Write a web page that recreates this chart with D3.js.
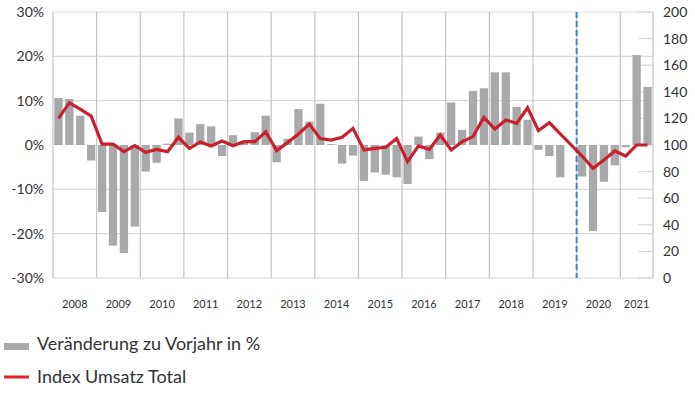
<!DOCTYPE html>
<html>
<head>
<meta charset="utf-8">
<script src="https://cdn.jsdelivr.net/npm/d3@7"></script>
<style>
    body { margin: 0; background: #ffffff; }
    text { font-family: Lato, sans-serif; fill: #333333; }
</style>
</head>
<body>
<div id="chart"></div>
<script>
const years = ['2008', '2009', '2010', '2011', '2012', '2013', '2014', '2015', '2016', '2017', '2018', '2019', '2020', '2021'];
const quartersPerYear = [4, 4, 4, 4, 4, 4, 4, 4, 4, 4, 4, 4, 4, 3];

// Veränderung zu Vorjahr in % (quarterly)
const changePct = [
    10.6, 10.4, 6.6, -3.5,
    -15.1, -22.7, -24.4, -18.4,
    -6.0, -4.0, 0.3, 6.0,
    2.8, 4.7, 4.2, -2.5,
    2.2, 0.5, 2.9, 6.6,
    -3.9, 1.4, 8.1, 5.3,
    9.3, 0.2, -4.2, -2.4,
    -8.1, -6.2, -6.7, -7.3,
    -8.8, 1.9, -3.2, 2.8,
    9.6, 3.4, 12.2, 12.8,
    16.4, 16.4, 8.6, 5.7,
    -1.1, -2.5, -7.3, 0,
    -7.1, -19.4, -8.3, -4.6,
    -0.5, 20.3, 13.1
];

// Index Umsatz Total (quarterly)
const indexTotal = [
    120, 131.7, 127, 121.7,
    100.7, 100.7, 95, 99.5,
    94.5, 96.7, 95, 105.8,
    97.3, 102.3, 99.3, 103,
    99.5, 102.5, 102.5, 110,
    95.8, 101.8, 108.3, 115.7,
    104.8, 103.7, 105.8, 112.5,
    96.3, 97.5, 98.3, 104.8,
    87.5, 99.3, 96.7, 107.5,
    96.3, 102.5, 106.3, 120.8,
    112, 118.8, 116.3, 128,
    110.8, 116.8, 108.3, 100,
    91.7, 82.5, 88.7, 95.5,
    91.7, 100, 100
];

const leftTicks = [-30, -20, -10, 0, 10, 20, 30];
const rightTicks = [0, 20, 40, 60, 80, 100, 120, 140, 160, 180, 200];
const markerYear = '2020';

// quarter keys like 2008Q1
const quarters = [];
years.forEach((y, i) => {
    for (let q = 1; q <= quartersPerYear[i]; q++) quarters.push(y + 'Q' + q);
});
const data = quarters.map((k, i) => ({key: k, change: changePct[i], index: indexTotal[i]}));

const margin = {top: 12, right: 42, bottom: 117, left: 53};
const width = 695, height = 395;
const visWidth = width - margin.left - margin.right;
const visHeight = height - margin.top - margin.bottom;

const svg = d3.select('#chart').append('svg')
    .attr('width', width)
    .attr('height', height);

const container = svg.append('g')
    .attr('transform', `translate(${margin.left}, ${margin.top})`);

const x = d3.scaleBand()
    .domain(quarters)
    .range([0, visWidth])
    .paddingInner(0.24)
    .paddingOuter(0.12);

const yLeft = d3.scaleLinear().domain([-30, 30]).range([visHeight, 0]);
const yRight = d3.scaleLinear().domain([0, 200]).range([visHeight, 0]);

// horizontal grid
container.selectAll('.hgrid')
    .data(leftTicks.filter(d => d !== 0))
    .join('line')
    .attr('class', 'hgrid')
    .attr('x1', 0)
    .attr('x2', visWidth)
    .attr('y1', d => yLeft(d))
    .attr('y2', d => yLeft(d))
    .attr('stroke', '#d9d9d9')
    .attr('stroke-width', 1.2);

// year boundaries
const yearStart = years.map(y => x(y + 'Q1') - x.step() * x.paddingOuter());
const yearEnd = yearStart.slice(1).concat([visWidth]);

container.selectAll('.vgrid')
    .data(yearStart.concat([visWidth]))
    .join('line')
    .attr('class', 'vgrid')
    .attr('x1', d => d)
    .attr('x2', d => d)
    .attr('y1', 0)
    .attr('y2', visHeight)
    .attr('stroke', '#c4c4c4')
    .attr('stroke-width', 1.2);

// right axis inward ticks
container.selectAll('.rtick')
    .data(rightTicks)
    .join('line')
    .attr('class', 'rtick')
    .attr('x1', visWidth - 15)
    .attr('x2', visWidth)
    .attr('y1', d => yRight(d))
    .attr('y2', d => yRight(d))
    .attr('stroke', '#d9d9d9')
    .attr('stroke-width', 1.2);

// bars
container.selectAll('.bar')
    .data(data)
    .join('rect')
    .attr('class', 'bar')
    .attr('x', d => x(d.key))
    .attr('width', x.bandwidth())
    .attr('y', d => yLeft(Math.max(0, d.change)))
    .attr('height', d => Math.abs(yLeft(d.change) - yLeft(0)))
    .attr('fill', '#a8a9ab');

// covid marker
const markerX = yearStart[years.indexOf(markerYear)];
container.append('line')
    .attr('x1', markerX)
    .attr('x2', markerX)
    .attr('y1', 0)
    .attr('y2', visHeight)
    .attr('stroke', '#3d85c6')
    .attr('stroke-width', 2)
    .attr('stroke-dasharray', '6,3');

// index line
const line = d3.line()
    .x(d => x(d.key) + x.bandwidth() / 2)
    .y(d => yRight(d.index));

container.append('path')
    .datum(data)
    .attr('d', line)
    .attr('fill', 'none')
    .attr('stroke', '#c8202f')
    .attr('stroke-width', 3.2)
    .attr('stroke-linejoin', 'miter');

// left labels
container.selectAll('.lLabel')
    .data(leftTicks)
    .join('text')
    .attr('class', 'lLabel')
    .attr('x', -9)
    .attr('y', d => yLeft(d))
    .attr('dy', '0.35em')
    .attr('text-anchor', 'end')
    .style('font-size', '14px')
    .text(d => d + '%');

// right labels
container.selectAll('.rLabel')
    .data(rightTicks)
    .join('text')
    .attr('class', 'rLabel')
    .attr('x', visWidth + 10)
    .attr('y', d => yRight(d))
    .attr('dy', '0.35em')
    .attr('text-anchor', 'start')
    .style('font-size', '14px')
    .text(d => d);

// year labels
container.selectAll('.yLabel')
    .data(years)
    .join('text')
    .attr('class', 'yLabel')
    .attr('x', (d, i) => (yearStart[i] + yearEnd[i]) / 2)
    .attr('y', visHeight + 26)
    .attr('dy', '0.35em')
    .attr('text-anchor', 'middle')
    .style('font-size', '11px')
    .text(d => d);

// legend
const legend = svg.append('g').attr('transform', 'translate(4, 0)');
legend.append('rect')
    .attr('x', 0).attr('y', 343)
    .attr('width', 25).attr('height', 7)
    .attr('fill', '#a8a9ab');
legend.append('text')
    .attr('x', 33).attr('y', 350)
    .style('font-size', '18px')
    .text('Veränderung zu Vorjahr in %');
legend.append('line')
    .attr('x1', 0).attr('x2', 25)
    .attr('y1', 377).attr('y2', 377)
    .attr('stroke', '#e0202c')
    .attr('stroke-width', 3);
legend.append('text')
    .attr('x', 33).attr('y', 383)
    .style('font-size', '18px')
    .text('Index Umsatz Total');
</script>
</body>
</html>
